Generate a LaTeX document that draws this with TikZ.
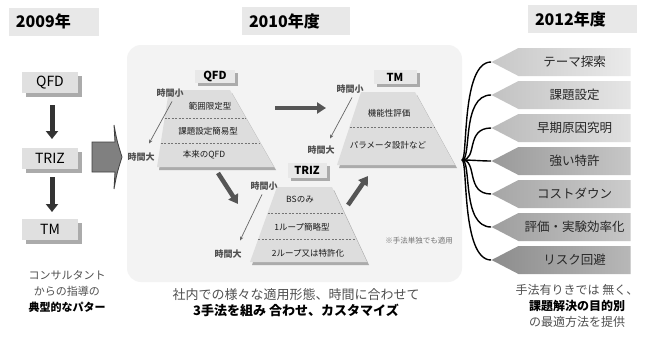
\documentclass[tikz,border=0pt]{standalone}
\usepackage{fontspec}
\setmainfont{Noto Sans CJK JP}
\usetikzlibrary{arrows.meta,shadows,calc,shapes.symbols}
\definecolor{panel}{HTML}{F3F3F3}
\definecolor{hdrfill}{HTML}{E8E8E8}
\definecolor{boxfill}{HTML}{E0E0E0}
\definecolor{shad}{HTML}{ABABAB}
\definecolor{trapfill}{HTML}{DDDDDD}
\definecolor{darkarrow}{HTML}{555555}
\definecolor{txtgray}{HTML}{505050}
\tikzset{
  hdr/.style={fill=hdrfill, font=\bfseries\fontsize{16}{18}\selectfont, text width=#1, align=left, inner xsep=7pt, inner ysep=0pt, minimum height=28pt},
  lbox/.style={fill=boxfill, drop shadow={shadow xshift=4pt,shadow yshift=-4pt,fill=shad,opacity=1}, minimum width=56pt, minimum height=21pt, inner sep=0pt, font=\fontsize{14}{16}\selectfont},
  ilbox/.style={fill=hdrfill, drop shadow={shadow xshift=3pt,shadow yshift=-3pt,fill=shad,opacity=1}, inner sep=0pt, font=\bfseries\fontsize{11}{12}\selectfont},
  ttxt/.style={font=\fontsize{8.5}{10}\selectfont, text=black!90, inner sep=1pt},
  tlab/.style={font=\bfseries\fontsize{9}{10}\selectfont, text=txtgray, inner sep=1pt},
  thinarrow/.style={draw=black!60, line width=0.7pt, -{Stealth[length=4pt,width=3.5pt]}},
  fatarrow/.style={draw=darkarrow, line width=4.5pt, -{Triangle[width=11pt,length=9pt]}},
  leftarrow/.style={draw=black!80, line width=5pt, -{Triangle[width=12pt,length=8pt]}},
  trap/.style={fill=trapfill},
  trapshadow/.style={fill=shad},
  dashline/.style={draw=black!55, line width=0.8pt, dash pattern=on 2pt off 1.5pt},
  pent/.style={signal, signal to=west, signal from=nothing, signal pointer angle=55, minimum width=139pt, minimum height=28pt, inner sep=0pt, font=\fontsize{12.5}{14}\selectfont, text=black!85},
  bracecurve/.style={line width=1.4pt, draw=black},
  btxt/.style={align=center, text=txtgray, inner sep=0pt},
}
\begin{document}
\begin{tikzpicture}[x=1pt,y=-1pt]
\useasboundingbox (0,0) rectangle (648,338);
\fill[white] (0,0) rectangle (648,338);

% headers
\node[hdr=76pt] (h2009) at (54,21.5) {2009年};
\node[hdr=94pt] (h2010) at (296,21) {2010年度};
\node[hdr=95pt] (h2012) at (582.5,19) {2012年度};

% left column
\node[lbox] (lq) at (50,82.5) {QFD};
\node[lbox] (lt) at (50,158.5) {TRIZ};
\node[lbox] (lm) at (50,229) {TM};
\coordinate (la1) at (52,105);
\coordinate (la2) at (52,139);
\coordinate (la3) at (52,177);
\coordinate (la4) at (52,212);
\draw[leftarrow] (la1) -- (la2);
\draw[leftarrow] (la3) -- (la4);

% block arrow
\filldraw[fill=black!50, draw=black!75, line width=0.8pt]
  (92,142) -- (115,142) -- (114,125) .. controls (117,141) .. (122,157)
  .. controls (117,173) .. (114,189) -- (115,172) -- (92,172) -- cycle;

% central panel
\fill[panel, rounded corners=14pt] (127,45) rectangle (462,282);

% QFD trapezoid
\coordinate (qtl) at (169,90); \coordinate (qtr) at (230,90);
\coordinate (qbr) at (274,167); \coordinate (qbl) at (157,167);
\fill[trapshadow] ($(qtl)+(2,3)$) -- ($(qtr)+(2,3)$) -- ($(qbr)+(2,3)$) -- ($(qbl)+(2,3)$) -- cycle;
\fill[trap] (qtl) -- (qtr) -- (qbr) -- (qbl) -- cycle;
\draw[dashline] ($(qtl)!0.372!(qbl)$) -- ($(qtr)!0.372!(qbr)$);
\draw[dashline] ($(qtl)!0.692!(qbl)$) -- ($(qtr)!0.692!(qbr)$);
\node[ttxt] (q1) at (210,106) {範囲限定型};
\node[ttxt] (q2) at (208,131) {課題設定簡易型};
\node[ttxt] (q3) at (204,155) {本来のQFD};
\node[ilbox, minimum width=40pt, minimum height=13pt] (qlab) at (215,76.5) {QFD};
\node[tlab] (qs) at (170,93) {時間小};
\node[tlab] (ql) at (141,157) {時間大};
\coordinate (qsa) at ($(qs.south)+(2,3)$);
\coordinate (qla) at ($(ql.north)+(8,-8)$);
\draw[thinarrow] (qsa) -- (qla);

% TM trapezoid
\coordinate (mtl) at (361,92); \coordinate (mtr) at (415,92);
\coordinate (mbr) at (455,165); \coordinate (mbl) at (337,165);
\fill[trapshadow] ($(mtl)+(2,3)$) -- ($(mtr)+(2,3)$) -- ($(mbr)+(2,3)$) -- ($(mbl)+(2,3)$) -- cycle;
\fill[trap] (mtl) -- (mtr) -- (mbr) -- (mbl) -- cycle;
\draw[dashline] ($(mtl)!0.479!(mbl)$) -- ($(mtr)!0.479!(mbr)$);
\node[ttxt] (m1) at (389,113) {機能性評価};
\node[ttxt] (m2) at (388,145) {パラメータ設計など};
\node[ilbox, minimum width=43pt, minimum height=14pt] (mlab) at (395,77) {TM};
\node[tlab] (ms) at (350,89) {時間小};
\node[tlab] (ml) at (321,150) {時間大};
\coordinate (msa) at ($(ms.south)+(2,3)$);
\coordinate (mla) at ($(ml.north)+(9,-6)$);
\draw[thinarrow] (msa) -- (mla);

% TRIZ trapezoid
\coordinate (ttl) at (277,187); \coordinate (ttr) at (332,187);
\coordinate (tbr) at (367,262); \coordinate (tbl) at (250,262);
\fill[trapshadow] ($(ttl)+(2,3)$) -- ($(ttr)+(2,3)$) -- ($(tbr)+(2,3)$) -- ($(tbl)+(2,3)$) -- cycle;
\fill[trap] (ttl) -- (ttr) -- (tbr) -- (tbl) -- cycle;
\draw[dashline] ($(ttl)!0.347!(tbl)$) -- ($(ttr)!0.347!(tbr)$);
\draw[dashline] ($(ttl)!0.693!(tbl)$) -- ($(ttr)!0.693!(tbr)$);
\node[ttxt] (t1) at (300,200) {BSのみ};
\node[ttxt] (t2) at (302,227) {1ループ簡略型};
\node[ttxt] (t3) at (308,253) {2ループ又は特許化};
\node[ilbox, minimum width=39pt, minimum height=15pt] (tlab) at (307,170.5) {TRIZ};
\node[tlab] (ts) at (264,186) {時間小};
\node[tlab] (tl) at (228,254) {時間大};
\coordinate (tsa) at ($(ts.south)+(-2,3)$);
\coordinate (tla) at ($(tl.north)+(12,-8)$);
\draw[thinarrow] (tsa) -- (tla);
\node[font=\fontsize{7.5}{9}\selectfont, text=black!55, inner sep=0pt] (note) at (419,241) {※手法単独でも適用};

% fat arrows
\coordinate (fa1) at (275,108); \coordinate (fa2) at (326,108);
\coordinate (fb1) at (218,173); \coordinate (fb2) at (238,204);
\coordinate (fc1) at (348,205); \coordinate (fc2) at (368,176);
\draw[fatarrow] (fa1) -- (fa2);
\draw[fatarrow] (fb1) -- (fb2);
\draw[fatarrow] (fc1) -- (fc2);

% right column
\node[pent, left color=black!22, right color=black!8] (p1) at (574.5,62) {テーマ探索};
\node[pent, left color=black!24, right color=black!10] (p2) at (574.5,95) {課題設定};
\node[pent, left color=black!27, right color=black!12] (p3) at (574.5,128) {早期原因究明};
\node[pent, left color=black!40, right color=black!22] (p4) at (574.5,161) {強い特許};
\node[pent, left color=black!35, right color=black!20] (p5) at (574.5,194) {コストダウン};
\node[pent, left color=black!38, right color=black!22] (p6) at (574.5,227) {評価・実験効率化};
\node[pent, left color=black!45, right color=black!28] (p7) at (574.5,260) {リスク回避};
\coordinate (hub) at (462,160);
\foreach \i/\a/\b in {1/6/30,2/10/30,3/16/26,4/10/10,5/16/26,6/10/30,7/6/30}{
  \draw[bracecurve] (hub) .. controls +(\a,0) and +(-\b,0) .. (p\i.west);
}

% bottom texts
\node[btxt, font=\fontsize{11}{16}\selectfont] (bl) at (67,292) {コンサルタント\\からの指導の\\\textcolor{black}{\bfseries 典型的なパター}};
\node[btxt, font=\fontsize{13}{16}\selectfont] (bc) at (296,303) {社内での様々な適用形態、時間に合わせて\\\textcolor{black}{\bfseries 3手法を組み 合わせ、カスタマイズ}};
\node[btxt, font=\fontsize{12}{16}\selectfont] (br) at (577,306) {手法有りきでは 無く、\\\textcolor{black}{\bfseries 課題解決の目的別}\\の最適方法を提供};
\end{tikzpicture}
\end{document}
